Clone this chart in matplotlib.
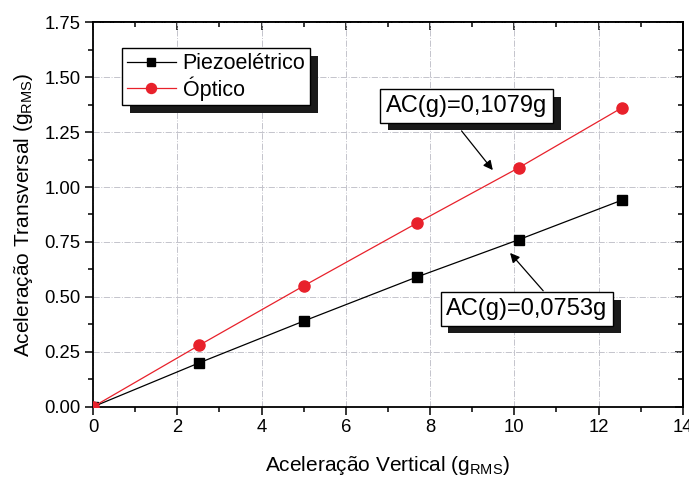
import numpy as np
import matplotlib
matplotlib.use("Agg")
import matplotlib.pyplot as plt
import matplotlib.patheffects as pe
from matplotlib.ticker import MultipleLocator

plt.rcParams['font.family'] = ['Liberation Sans', 'DejaVu Sans']

# measured points
vertical = [0.0, 2.52, 5.0, 7.68, 10.1, 12.55]
piezo = [0.0, 0.20, 0.39, 0.59, 0.76, 0.94]
optico = [0.0, 0.28, 0.55, 0.835, 1.087, 1.36]

labels = ['Piezoelétrico', 'Óptico']
ac_piezo = 'AC(g)=0,0753g'
ac_optico = 'AC(g)=0,1079g'

red = '#e8212b'

fig = plt.figure(figsize=(6.89, 4.82), dpi=100)
ax = fig.add_axes([0.135, 0.156, 0.856, 0.798])

ax.plot(vertical, piezo, color='black', lw=0.9, marker='s', ms=6.8,
        label=labels[0], zorder=3)
ax.plot(vertical, optico, color=red, lw=0.9, marker='o', ms=8,
        label=labels[1], zorder=3)

ax.set_xlim(0, 14)
ax.set_ylim(0, 1.75)
ax.xaxis.set_major_locator(MultipleLocator(2))
ax.xaxis.set_minor_locator(MultipleLocator(1))
ax.yaxis.set_major_locator(MultipleLocator(0.25))
ax.yaxis.set_minor_locator(MultipleLocator(0.125))
ax.yaxis.set_major_formatter(matplotlib.ticker.FormatStrFormatter('%.2f'))
ax.tick_params(which='major', direction='out', length=6, width=1.1,
               labelsize=13.3, pad=3)
ax.tick_params(which='minor', direction='out', length=3.5, width=1.1)
for s in ax.spines.values():
    s.set_linewidth(1.3)

ax.grid(True, which='major', linestyle='-.', color='#c4c4cc', lw=0.7)

# inward ticks on the top and right edges
top = ax.secondary_xaxis('top')
top.xaxis.set_major_locator(MultipleLocator(2))
top.xaxis.set_minor_locator(MultipleLocator(1))
top.tick_params(which='major', direction='in', length=6, width=1.1, labeltop=False)
top.tick_params(which='minor', direction='in', length=3.5, width=1.1)
right = ax.secondary_yaxis('right')
right.yaxis.set_major_locator(MultipleLocator(0.25))
right.yaxis.set_minor_locator(MultipleLocator(0.125))
right.tick_params(which='major', direction='in', length=6, width=1.1, labelright=False)
right.tick_params(which='minor', direction='in', length=3.5, width=1.1)
for sa in (top, right):
    for s in sa.spines.values():
        s.set_linewidth(1.3)

ax.set_xlabel('Aceleração Vertical (g$_\\mathregular{RMS}$)', fontsize=15, labelpad=13)
ax.set_ylabel('Aceleração Transversal (g$_\\mathregular{RMS}$)', fontsize=15, labelpad=7)

shadow = [pe.SimplePatchShadow(offset=(5.5, -5.5), shadow_rgbFace='#1a1a1a', alpha=1.0),
          pe.Normal()]

leg = ax.legend(loc='upper left', bbox_to_anchor=(0.049, 0.932), fontsize=15.5,
                fancybox=False, framealpha=1, edgecolor='black',
                handlelength=2.3, handletextpad=0.3, borderpad=0.22,
                labelspacing=0.1, borderaxespad=0, markerscale=0.9)
leg.get_frame().set_linewidth(1.0)
leg.get_frame().set_path_effects(shadow)

box = dict(boxstyle='square,pad=0.24', fc='white', ec='black', lw=1.0)

a1 = ax.annotate(ac_optico, xy=(9.49, 1.077), xytext=(8.87, 1.368),
                 fontsize=17, ha='center', va='center', bbox=box,
                 arrowprops=dict(arrowstyle='-|>', color='black', lw=0.9,
                                 mutation_scale=14, relpos=(0.4, 0.0),
                                 shrinkA=7, shrinkB=0),
                 zorder=5)
a1.get_bbox_patch().set_path_effects(shadow)

a2 = ax.annotate(ac_piezo, xy=(9.9, 0.70), xytext=(10.3, 0.445),
                 fontsize=17, ha='center', va='center', bbox=box,
                 arrowprops=dict(arrowstyle='-|>', color='black', lw=0.9,
                                 mutation_scale=14, relpos=(0.64, 1.0),
                                 shrinkA=1, shrinkB=0),
                 zorder=5)
a2.get_bbox_patch().set_path_effects(shadow)

fig.savefig('out.png', dpi=100)
